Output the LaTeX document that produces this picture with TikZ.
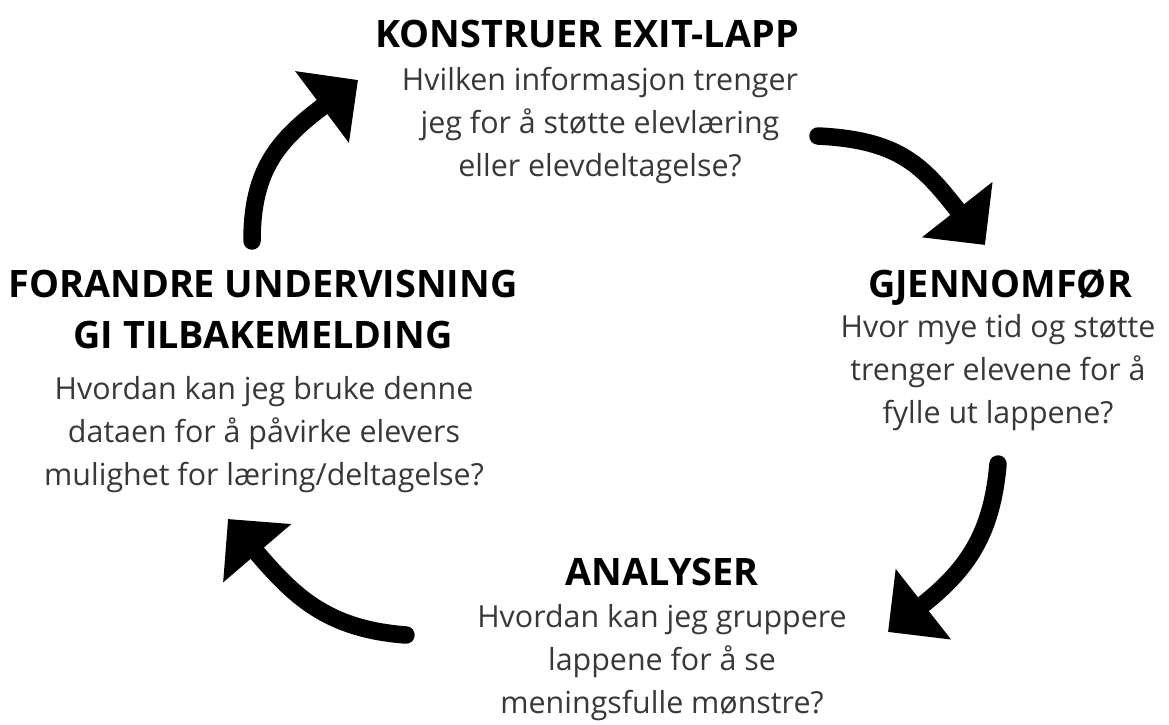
\documentclass[tikz,border=0pt]{standalone}
\usepackage{fontspec}
\setmainfont{Open Sans}
\usetikzlibrary{arrows.meta}
\tikzset{
  tittel/.style={font=\bfseries\fontsize{21.5}{28.9}\selectfont, align=center, anchor=base, inner sep=0pt},
  sporsmal/.style={font=\fontsize{17.3}{24.4}\selectfont, text=black!78, align=center, anchor=base, inner sep=0pt},
  pil/.style={line width=0.35cm, line cap=round, -{Triangle[length=0.9cm,width=1.74cm]}}
}
\begin{document}
\begin{tikzpicture}[x=0.02cm,y=-0.02cm]
\useasboundingbox (0,0) rectangle (1169,724);

\node[tittel] (1) at (587,47) {KONSTRUER EXIT-LAPP};
\node[sporsmal] (1q) at (600,176) {Hvilken informasjon trenger\\jeg for å støtte elevlæring\\eller elevdeltagelse?};

\node[tittel] (2) at (1000,297) {GJENNOMFØR};
\node[sporsmal] (2q) at (998,423) {Hvor mye tid og støtte\\trenger elevene for å\\fylle ut lappene?};

\node[tittel] (3) at (662,585) {ANALYSER};
\node[sporsmal] (3q) at (662,713) {Hvordan kan jeg gruppere\\lappene for å se\\meningsfulle mønstre?};

\node[tittel] (4) at (263,348) {FORANDRE UNDERVISNING\\GI TILBAKEMELDING};
\node[sporsmal] (4q) at (264,485) {Hvordan kan jeg bruke denne\\dataen for å påvirke elevers\\mulighet for læring/deltagelse?};

% piler
\coordinate (s1) at (252,241);
\coordinate (e1) at (358,80);
\coordinate (s2) at (818,136);
\coordinate (e2) at (985,245);
\coordinate (s3) at (998,464);
\coordinate (e3) at (888,632);
\coordinate (s4) at (406,635);
\coordinate (e4) at (228,519);

\draw[pil] (s1) .. controls (252,170) and (278,140) .. (e1);
\draw[pil] (s2) .. controls (900,140) and (923,166) .. (e2);
\draw[pil] (s3) .. controls (992,534) and (967,570) .. (e3);
\draw[pil] (s4) .. controls (326,629) and (293,595) .. (e4);
\end{tikzpicture}
\end{document}
